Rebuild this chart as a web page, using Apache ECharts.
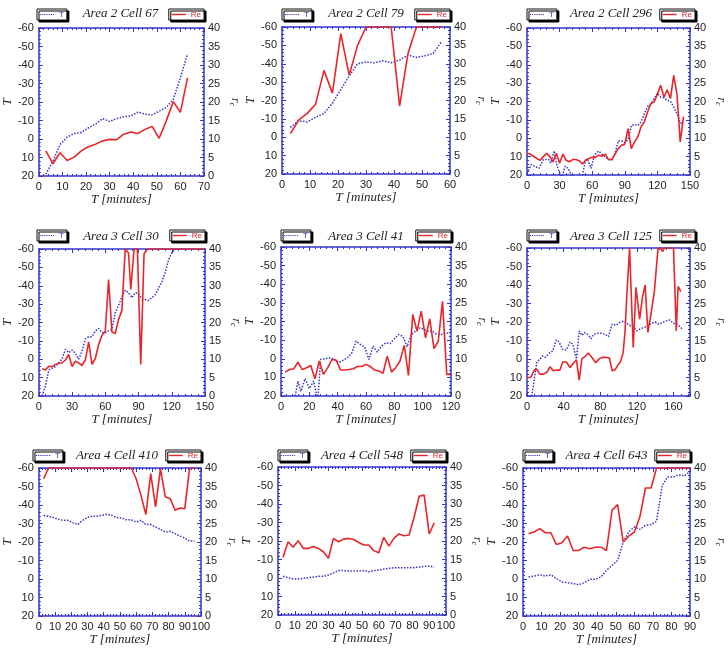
<!DOCTYPE html>
<html><head><meta charset="utf-8">
<script src="https://cdn.jsdelivr.net/npm/echarts@6/dist/echarts.min.js"></script>
<style>html,body{margin:0;padding:0;background:#fff}#c{width:728px;height:649px}</style>
</head><body><div id="c"></div>
<script>
// ---------- DATA ----------
const titles = ['Area 2 Cell 67','Area 2 Cell 79','Area 2 Cell 296','Area 3 Cell 30','Area 3 Cell 41','Area 3 Cell 125','Area 4 Cell 410','Area 4 Cell 548','Area 4 Cell 643'];
const xMaxes = [70,60,150,150,120,178,100,100,90];
const xIntervals = [10,10,30,30,20,40,10,10,10];
const tTicks = [-60,-50,-40,-30,-20,-10,0,10,20];
const rTicks = [0,5,10,15,20,25,30,35,40];

const p1Time = [3,6,9,12,15,18,21,24,27,30,33,36,39,42,45,48,51,54,57,60,63];
const p1T = [19,12,3,-1,-3,-3.5,-6,-8,-11,-9.5,-11,-12,-12.5,-14.5,-13.5,-13,-15,-17,-21.5,-33,-46];
const p1Re = [6.8,3.3,6.3,4.2,5.1,6.8,7.9,8.6,9.5,9.9,9.8,11.3,11.9,11.5,12.6,13.4,10.2,14.9,20.1,17.2,26.5];

const p2Time = [3,6,9,12,15,18,21,24,27,30,33,36,39,42,45,48,51,54,57];
const p2T = [-5.4,-9,-8.3,-10.9,-13,-18.5,-26,-33.3,-40,-41,-40.5,-41.6,-40.5,-42,-44.7,-43.4,-44.3,-45.6,-52];
const p2Re = [11,14.7,16.5,19,28.2,22,38.2,26.9,35,40,40,40,40,18.5,32.8,40,40,40,40];

const p3TTime = [0,4,8,11,15,20,22,25,27,29,32,35,38,40,43,47,51,54,56,59,62,66,69,72,75,78,81,84,87,90,93,96,99,102,105,108,111,114,117,120,123,126,129,132,135,138,141,144];
const p3T = [19.1,14.3,15.5,16.4,11.6,11.6,13.4,6.9,13.4,17.3,21.8,15.2,16.4,19.1,22.7,23.6,20,11.6,11.9,16.4,9.2,6.9,8.7,10.1,11.6,11.9,8.3,1.4,1.4,2.5,0.7,-7,-7.4,-7,-8.8,-13.4,-17.3,-18.8,-21.5,-24.5,-22.4,-22,-20.6,-20.2,-17,-13.4,-8.3,-8];
const p3ReTime = [0,3,6,9,12,15,18,21,24,27,30,33,36,39,42,45,48,51,54,57,60,63,66,69,72,75,78,81,84,87,90,93,96,99,102,105,108,111,114,117,120,123,126,129,132,135,138,141,144];
const p3Re = [5.9,5.7,5.1,4.5,4,5,5.9,5,3.6,5.9,3.2,5.7,4,3.6,4.2,4.2,3.9,3,4,4.5,4.8,4.8,5.4,5.1,5.7,4.2,4.2,5.7,7.2,8.1,8.4,12.6,7.2,9,10.4,13.1,14.5,17.2,19.4,19.9,22,24.4,21.2,23.2,20.8,27.1,22.1,9,15.8];

const p4TTime = [3,6,9,12,15,18,21,24,27,30,33,36,39,42,45,48,51,54,57,60,63,66,69,72,75,78,81,84,87,90,93,96,99,102,105,108,111,114,117,120,123,126];
const p4T = [20,14.5,5.8,5,4,1.8,0,-5.4,-3.6,-5,-3.3,0,-4.5,-10.9,-12.3,-12.3,-15.4,-16.8,-14.5,-14.5,-15.4,-16.3,-25.3,-29.3,-34,-37.6,-36.2,-33.5,-36.2,-35.8,-33,-32.5,-32,-33.5,-35,-38.5,-42,-47,-54,-58,-60,-60];
const p4ReTime = [3,6,9,12,15,18,21,24,27,30,33,36,39,42,45,48,51,54,57,60,63,66,69,72,75,78,81,83,86,89,92,95,98,150];
const p4Re = [7.4,7.1,8.1,8,8.6,8.9,9,9.8,11.3,8,9.5,9,8.3,9.8,14.7,8.6,10.2,14,16.5,17.6,31.7,17.4,17,20.8,23.3,40,38.9,29,40,40,8.6,38.7,40,40];

const p5TTime = [3,6,9,12,14,17,20,23,26,28,31,35,38,41,44,47,50,53,56,59,62,65,68,71,74,77,80,83,86,89,92,95,98,101,104,107,110,113,116,119];
const p5T = [30,30,24,12,17.5,10.7,16,12,22,0.4,0,-0.5,0.4,2,0.7,-0.5,-3.2,-9.5,-7.7,-6.4,0.4,-6.8,-3.6,-6.8,-8.6,-8.2,-10.7,-13,-12,-6.5,-13,-14.8,-16.6,-15.7,-14.8,-14.8,-13,-13,-13.6,-14];
const p5ReTime = [3,6,9,12,15,18,21,24,27,30,33,36,39,42,45,48,51,54,57,60,63,66,69,72,75,78,81,84,87,90,93,96,99,102,105,108,111,114,117,120];
const p5Re = [6.4,7.1,7.3,9.1,7.1,7.6,8.2,4.6,9.4,5.8,7.6,9.8,9.6,7,7,7.1,7.3,7.9,7.9,8.5,7.9,7,6.7,6.1,10.7,6.4,7.6,9.4,13.6,5.5,21.9,17.4,22.8,15.6,20.7,12.7,14.7,25.4,5.8,5.8];

const p6TTime = [5,7,9,11,14,17,20,24,28,32,35,39,43,47,50,54,57,60,63,66,70,73,77,81,85,89,93,97,101,105,108,112,116,120,124,128,132,136,140,144,148,152,156,160,164,168,170];
const p6T = [20,14.6,7,1.3,0.2,-1.6,-0.9,-3,-4.3,-10.3,-9.2,-5.2,-4.9,-9.2,-7.9,0,-15.2,-12.8,-14.3,-13.4,-11,-13.4,-13.9,-13.9,-13.4,-12.1,-18.8,-18.2,-19.7,-20.4,-19.7,-18.2,-17.5,-15.2,-16.4,-17,-18.2,-19.3,-20,-18.8,-19.7,-20.6,-21.1,-19.3,-18.8,-17,-16];
const p6ReTime = [0,4,8,11,14,18,22,25,29,32,36,39,43,47,51,54,57,60,64,67,71,75,79,83,87,90,93,96,99,102,105,107,109,112,116,119,123,126,129,132,135,139,143,146,148,150,160,163,165,168];
const p6Re = [5,5,7,7.2,5.9,5.9,6.5,7.9,6.8,7,7,9.2,9.2,7.7,9,9.8,4.3,10.1,10.8,11.6,10.4,9,10.1,10.5,10.4,10.3,6.8,7,8.3,9.2,11.7,17.3,27.1,40,13.1,29.4,20.8,26.6,30,17.2,21.5,28,39.7,40,39,40,40,17.6,29.6,28.2];

const p7Time = [3,6,9,12,15,18,21,24,27,30,33,36,39,42,45,48,51,54,57,60,63,66,69,72,75,78,81,84,87,90,93,96];
const p7T = [-34.4,-33.9,-33.2,-32.3,-31.7,-31.7,-30.5,-29.4,-31.7,-33.2,-34,-33.9,-34.4,-35,-34.4,-33.2,-33,-32,-32,-30.8,-31.7,-29.4,-29.4,-28.1,-26.8,-25.4,-25.8,-24.5,-23.2,-22.2,-20.5,-20.5];
const p7Re = [37.1,40,40,40,40,40,40,40,40,40,40,40,40,40,40,40,40,40,40,37.1,32.6,27.4,38.5,29.5,39.8,32.2,31.7,28.6,29.2,29,40,40];

const p8Time = [3,6,9,12,15,18,21,24,27,30,33,36,39,42,45,48,51,54,57,60,63,66,69,72,75,78,81,84,87,90,93];
const p8T = [-0.9,-0.2,0.5,0.5,0.2,-0.2,-0.5,-0.9,-0.9,-1.6,-2.7,-4,-4,-3.8,-3.8,-3.8,-4,-3.4,-4,-4.3,-4.9,-5.2,-5.6,-5.6,-5.6,-5.6,-5.6,-5.9,-6.3,-6.3,-5.9];
const p8Re = [15.6,19.8,18.3,20.1,18,18,18.5,18,17.1,15.3,20.7,19.8,20.5,20.7,20.4,19.6,18.9,18.9,17.4,16.8,21,18.6,20.7,21.9,21.4,21.6,26.4,32.1,32.4,21.9,24.9];

const p9Time = [3,6,9,12,15,18,21,24,27,30,33,36,39,42,45,48,51,54,57,60,63,66,69,72,75,78,81,84,87,90];
const p9T = [-1.1,-1.6,-2.3,-1.6,-2.3,-0.2,1.6,2,2.5,3.1,2,0.2,0.2,-1.1,-4.7,-7.4,-10.1,-20,-25.4,-28.1,-26.8,-29,-29.4,-31.2,-50.6,-55.1,-55.1,-56.4,-55.7,-58.2];
const p9Re = [22.3,22.7,23.6,22.5,22.5,19.3,19.8,21.6,17.7,17.7,18.6,18.2,18.6,18.6,17.7,28.6,30.1,20,21.6,22.7,26.8,34.6,34.6,40,40,40,40,40,40,40];

const seriesData = [
  [p1Time,p1T,p1Time,p1Re],[p2Time,p2T,p2Time,p2Re],[p3TTime,p3T,p3ReTime,p3Re],
  [p4TTime,p4T,p4ReTime,p4Re],[p5TTime,p5T,p5ReTime,p5Re],[p6TTime,p6T,p6ReTime,p6Re],
  [p7Time,p7T,p7Time,p7Re],[p8Time,p8T,p8Time,p8Re],[p9Time,p9T,p9Time,p9Re]
];

// ---------- LAYOUT / STYLE ----------
const grids = [
  [37,28,167,148],[282,27,168,147],[527,28,168,147],
  [37,249,168,147],[281,247,170,149],[527,248,168,148],
  [33,468,168,148],[278,467,168,148],[523,468,167,148]
];
const legendTop = [9,9,9,230,230,230,450,450,450];
const titleTop = [7,7,7,230,230,230,449,449,449];
const BLUE = '#3434cc', RED = '#e8262a', TXT = '#222';
const SANS = 'Liberation Sans, Arial, sans-serif';
const SERIF = 'Liberation Serif, Times New Roman, serif';
let dots = '';
for (let k = 0; k < 7; k++) dots += 'M' + (k * 2.4) + ',0h1.3v1.3h-1.3z';
const dotIcon = 'path://' + dots;

const option = {animation:false, backgroundColor:'#fff', grid:[], xAxis:[], yAxis:[], series:[], legend:[], title:[]};
const axLine = {show:true, onZero:false, lineStyle:{color:BLUE, width:1.5}};
const axTick = {show:true, inside:true, length:4, lineStyle:{color:BLUE, width:1}};
const minTick = {show:true, splitNumber:5, length:2, lineStyle:{color:BLUE, width:1}};
const lab = {color:TXT, fontSize:11, fontFamily:SANS};

grids.forEach((g, i) => {
  const [gl, gt, gw, gh] = g;
  option.grid.push({left:gl, top:gt, width:gw, height:gh, show:false});
  const xmax = xMaxes[i];
  option.xAxis.push({type:'value', gridIndex:i, position:'bottom', min:0, max:xmax, interval:xIntervals[i],
    axisLine:axLine, axisTick:axTick, minorTick:minTick, splitLine:{show:false},
    axisLabel:Object.assign({margin:5, showMaxLabel: xmax % xIntervals[i] === 0}, lab),
    name:'T [minutes]', nameLocation:'middle', nameGap:17,
    nameTextStyle:{fontFamily:SERIF, fontStyle:'italic', fontSize:13, color:TXT}});
  option.xAxis.push({type:'value', gridIndex:i, position:'top', min:0, max:xmax, interval:xIntervals[i],
    axisLine:axLine, axisTick:axTick, minorTick:minTick, splitLine:{show:false}, axisLabel:{show:false}});
  option.yAxis.push({type:'value', gridIndex:i, position:'left', min:tTicks[0], max:tTicks[tTicks.length-1], interval:10, inverse:true,
    axisLine:axLine, axisTick:axTick, minorTick:minTick, splitLine:{show:false},
    axisLabel:Object.assign({margin:5}, lab),
    name:'T', nameLocation:'middle', nameGap:20,
    nameTextStyle:{fontFamily:SERIF, fontStyle:'italic', fontSize:13, color:TXT}});
  option.yAxis.push({type:'value', gridIndex:i, position:'right', min:rTicks[0], max:rTicks[rTicks.length-1], interval:5,
    axisLine:axLine, axisTick:axTick, minorTick:minTick, splitLine:{show:false},
    axisLabel:Object.assign({margin:4}, lab),
    name:'{r|r}{c|c}', nameLocation:'middle', nameGap:24, nameRotate:-90,
    nameTextStyle:{color:TXT, rich:{r:{fontFamily:SERIF, fontStyle:'italic', fontSize:12, color:TXT}, c:{fontFamily:SERIF, fontStyle:'italic', fontSize:8, color:TXT, padding:[6,0,0,0]}}}});
  const d = seriesData[i];
  option.series.push({type:'line', name:'T', xAxisIndex:2*i, yAxisIndex:2*i, symbol:'none', clip:true,
    data:d[0].map((t, k) => [t, d[1][k]]), lineStyle:{color:BLUE, width:1.5, type:'dotted'}, itemStyle:{color:BLUE}});
  option.series.push({type:'line', name:'Re', xAxisIndex:2*i, yAxisIndex:2*i+1, symbol:'none', clip:true,
    data:d[2].map((t, k) => [t, d[3][k]]), lineStyle:{color:RED, width:1.6}, itemStyle:{color:RED}});
  const lg = {top:legendTop[i], itemWidth:14, itemHeight:1.4, selectedMode:false, orient:'horizontal',
    borderColor:'#111', borderWidth:1, padding:[1,3,1,3], backgroundColor:'#fff',
    shadowColor:'#000', shadowOffsetX:2, shadowOffsetY:2, shadowBlur:0.01};
  option.legend.push(Object.assign({}, lg, {left:gl, data:[{name:'T', icon:dotIcon}],
    textStyle:{fontSize:8, lineHeight:9, color:BLUE, fontFamily:SANS}}));
  option.legend.push(Object.assign({}, lg, {right:728-(gl+gw), data:[{name:'Re', icon:'rect'}],
    textStyle:{fontSize:8, lineHeight:9, color:RED, fontFamily:SANS}}));
  option.title.push({text:titles[i], left:gl+gw/2, top:titleTop[i], textAlign:'center', padding:0,
    textStyle:{fontFamily:SERIF, fontStyle:'italic', fontWeight:'normal', fontSize:13, color:TXT}});
});

const chart = echarts.init(document.getElementById('c'), null, {renderer:'canvas'});
chart.setOption(option);
</script>
</body></html>
